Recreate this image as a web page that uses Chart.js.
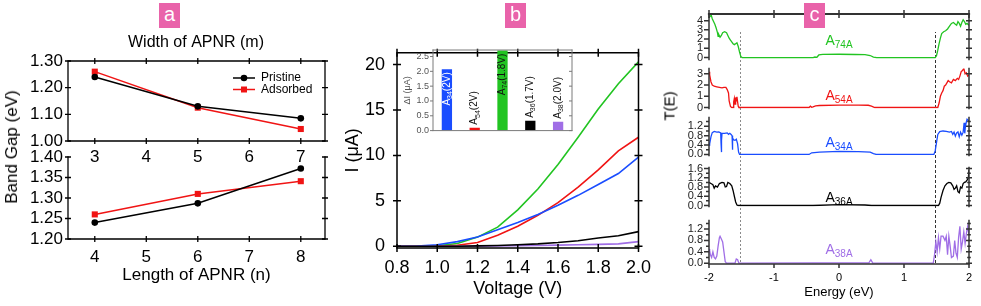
<!DOCTYPE html>
<html>
<head>
<meta charset="utf-8">
<script src="https://cdn.jsdelivr.net/npm/chart.js@4/dist/chart.umd.min.js"></script>
<style>
  body { margin: 0; background: #fff; }
  #fig { position: relative; width: 981px; height: 306px; overflow: hidden; font-family: "Liberation Sans", Arial, sans-serif; }
  canvas { position: absolute; }
  .tag { position: absolute; z-index: 5; width: 21px; height: 25px; background: #e963aa; color: #fff; font-size: 20px; line-height: 23px; text-align: center; }
  .vt { position: absolute; z-index: 5; transform: translate(-50%, -50%) rotate(-90deg); white-space: nowrap; color: #000; }
</style>
</head>
<body>
<div id="fig">
  <div class="tag" style="left:159px;top:3px">a</div>
  <div class="tag" style="left:505px;top:3px">b</div>
  <div class="tag" style="left:804px;top:3px">c</div>
  <div class="vt" style="left:12px;top:147px;font-size:17px">Band Gap (eV)</div>
  <div class="vt" style="left:669px;top:106px;font-size:15px">T(E)</div>
</div>
<script>
// panel a : band gap vs width / length
const widthM = [3, 5, 7];
const widthPristine = [1.24, 1.13, 1.085];
const widthAdsorbed = [1.26, 1.125, 1.045];
const widthTicks = [3, 4, 5, 6, 7];
const gapTicksWidth = [1.0, 1.1, 1.2, 1.3];

const lengthN = [4, 6, 8];
const lengthPristine = [1.24, 1.287, 1.372];
const lengthAdsorbed = [1.26, 1.31, 1.341];
const lengthTicks = [4, 5, 6, 7, 8];
const gapTicksLength = [1.2, 1.25, 1.3, 1.35, 1.4];

// panel b : I-V curves
const voltage = [0.8, 0.9, 1.0, 1.1, 1.2, 1.3, 1.4, 1.5, 1.6, 1.7, 1.8, 1.9, 2.0];
const iA74 = [0, 0, 0.05, 0.3, 1.0, 2.1, 4.0, 6.3, 9.0, 12.0, 15.1, 17.9, 20.3];
const iA54 = [0, 0, 0, 0.1, 0.4, 1.2, 2.2, 3.4, 4.8, 6.5, 8.4, 10.5, 12.0];
const iA34 = [0, 0.02, 0.15, 0.5, 1.0, 1.8, 2.6, 3.5, 4.5, 5.6, 6.8, 8.0, 9.8];
const iA36 = [0, 0, 0, 0, 0.03, 0.08, 0.15, 0.25, 0.4, 0.6, 0.9, 1.15, 1.6];
const iA38 = [0, 0, 0, 0, 0, 0.02, 0.05, 0.08, 0.12, 0.16, 0.2, 0.25, 0.5];
const voltTicks = [0.8, 1.0, 1.2, 1.4, 1.6, 1.8, 2.0];
const currentTicks = [0, 5, 10, 15, 20];

// panel b inset : delta I
const insetNames = ['34', '54', '74', '36', '38'];
const insetBias = ['(2V)', '(2V)', '(1.8V)', '(1.7V)', '(2.0V)'];
const insetDelta = [2.07, 0.1, 2.7, 0.33, 0.3];
const insetTicks = [0, 0.5, 1.0, 1.5, 2.0, 2.5];

// panel c : transmission T(E)
const eA74 = [-2.00,-1.98,-1.97,-1.95,-1.93,-1.91,-1.89,-1.87,-1.86,-1.85,-1.83,-1.81,-1.79,-1.76,-1.73,-1.71,-1.69,-1.67,-1.65,-1.63,-1.61,-1.59,-1.57,-1.55,-1.53,-1.51,-1.49,-0.40,-0.37,-0.34,-0.31,-0.25,0.00,0.25,0.40,0.48,0.53,0.58,1.48,1.50,1.52,1.54,1.56,1.58,1.61,1.64,1.67,1.70,1.73,1.76,1.79,1.81,1.83,1.85,1.87,1.89,1.91,1.93,1.95,1.97,2.00];
const tA74 = [4.3,4.5,4.7,4.2,3.9,3.6,3.2,2.7,2.3,2.5,2.2,2.4,2.7,2.8,2.7,2.4,2.1,1.9,1.7,1.5,1.4,1.5,1.6,1.2,0.6,0.1,0,0,0.06,0.03,0.28,0.35,0.36,0.33,0.31,0.22,0.05,0,0,0.2,0.8,1.5,2.1,2.6,2.8,2.9,3.1,3.4,3.7,3.8,3.6,3.5,3.9,3.7,3.4,3.8,4.1,3.9,3.6,3.7,3.5];
const eA54 = [-2.00,-1.99,-1.97,-1.95,-1.92,-1.88,-1.84,-1.80,-1.77,-1.74,-1.72,-1.70,-1.69,-1.67,-1.65,-1.63,-1.62,-1.61,-1.60,-1.59,-1.58,-1.57,-1.56,-1.55,-1.54,-0.46,-0.44,-0.42,-0.40,-0.36,-0.30,0.00,0.30,0.45,0.50,0.55,1.52,1.54,1.56,1.58,1.60,1.62,1.64,1.66,1.68,1.70,1.73,1.76,1.79,1.82,1.84,1.86,1.88,1.90,1.92,1.94,1.96,1.98,2.00];
const tA54 = [3.2,2.9,2.3,2.0,1.9,1.85,1.8,1.75,1.8,1.8,1.6,1.3,0.6,0.1,0,0,0.5,0.8,0.3,0.9,0.6,0.95,0.5,0.1,0,0,0.12,0.02,0.05,0.15,0.18,0.22,0.22,0.2,0.12,0,0,0.4,1.0,1.3,1.5,1.9,2.0,2.2,2.4,2.3,2.2,2.5,2.4,2.6,2.5,2.8,3.2,3.3,3.5,3.0,3.1,2.8,2.9];
const eA34 = [-2.00,-1.99,-1.97,-1.95,-1.92,-1.88,-1.85,-1.82,-1.815,-1.81,-1.805,-1.80,-1.76,-1.72,-1.70,-1.68,-1.66,-1.645,-1.64,-1.635,-1.62,-1.60,-1.58,-1.56,-1.545,-1.53,-0.46,-0.42,-0.30,0.00,0.30,0.48,0.53,0.57,1.46,1.48,1.50,1.52,1.55,1.60,1.65,1.70,1.73,1.75,1.77,1.79,1.81,1.83,1.85,1.87,1.89,1.91,1.925,1.935,1.945,1.96,1.97,1.98,1.99,2.00];
const tA34 = [0.4,0.45,0.75,0.93,0.98,0.95,0.96,0.92,0.5,0.1,0.6,0.9,0.9,0.92,0.86,0.9,0.85,0.8,0.2,0.7,0.62,0.6,0.65,0.45,0.1,0,0,0.07,0.1,0.13,0.12,0.1,0.04,0,0,0.15,0.5,0.85,0.97,1.0,0.98,0.95,0.98,0.86,0.95,0.78,0.92,0.96,0.75,0.95,0.82,0.95,1.35,0.9,1.2,1.4,1.5,1.5,1.45,1.42];
const eA36 = [-2.00,-1.97,-1.94,-1.92,-1.90,-1.87,-1.84,-1.80,-1.77,-1.75,-1.73,-1.71,-1.68,-1.65,-1.63,-1.61,-1.59,-1.57,-1.55,-0.40,0.00,0.40,0.50,1.53,1.55,1.57,1.60,1.63,1.66,1.69,1.72,1.75,1.77,1.79,1.81,1.83,1.85,1.87,1.89,1.91,1.93,1.95,1.97,1.99,2.00];
const tA36 = [1.0,0.95,0.9,0.75,0.85,0.8,0.95,1.0,0.98,0.8,0.82,1.0,0.95,0.85,0.65,0.4,0.15,0.02,0,0,0.04,0.02,0,0,0.1,0.35,0.65,0.85,0.95,1.0,0.98,0.85,0.7,0.75,0.85,0.6,0.55,0.8,0.75,0.95,1.0,1.02,1.1,1.2,1.55];
const eA38 = [-2.00,-1.99,-1.98,-1.96,-1.94,-1.92,-1.90,-1.88,-1.86,-1.84,-1.83,-1.81,-1.79,-1.77,-1.75,-1.73,-1.60,-1.58,-1.56,-1.54,-0.40,0.46,0.49,0.52,1.45,1.47,1.49,1.51,1.53,1.55,1.57,1.60,1.63,1.65,1.67,1.69,1.71,1.73,1.76,1.78,1.80,1.82,1.84,1.86,1.88,1.90,1.92,1.94,1.96,1.98,2.00];
const tA38 = [0.5,0.45,0.3,0.2,0.4,0.2,0.15,0.25,0.6,0.9,0.95,0.85,0.75,0.4,0.05,0,0,0.15,0.12,0,0.01,0.01,0.12,0,0,0.3,0.75,0.4,0.9,0.5,0.95,0.95,0.8,0.95,0.3,0.95,0.6,0.2,0.25,0.8,0.35,0.2,0.9,1.3,0.5,0.75,1.1,0.7,1.05,1.3,1.0];
const energyTicks = [-2, -1, 0, 1, 2];
const gapEdges = [-1.53, 1.47];

const GREEN = '#22c422', RED = '#f01414', BLUE = '#1a4dff', BLACK = '#000', PURPLE = '#a06ee6';
const FONT = '"Liberation Sans", Arial, sans-serif';
Chart.defaults.font.family = FONT;
Chart.defaults.color = '#000';
Chart.defaults.animation = false;
Chart.defaults.events = [];
Chart.defaults.plugins.legend.display = false;
Chart.defaults.plugins.tooltip.enabled = false;

const xy = (xs, ys) => xs.map((x, i) => ({ x, y: ys[i] }));
const fixTicks = vals => s => { s.ticks = vals.map(v => ({ value: v })); };
const noGrid = { display: false, drawTicks: false };

function canvasAt(left, top, w, h) {
  const c = document.createElement('canvas');
  c.width = w; c.height = h;
  c.style.left = left + 'px'; c.style.top = top + 'px';
  c.style.width = w + 'px'; c.style.height = h + 'px';
  document.getElementById('fig').appendChild(c);
  return c;
}

// text with subscripts: parts = [[text, size, dy], ...]
function drawParts(ctx, parts, x, y, align, rot, color) {
  ctx.save();
  ctx.translate(x, y);
  if (rot) ctx.rotate(rot);
  ctx.fillStyle = color;
  ctx.textBaseline = 'middle';
  ctx.textAlign = 'left';
  let w = 0;
  for (const [t, s] of parts) { ctx.font = s + 'px ' + FONT; w += ctx.measureText(t).width; }
  let cx = align === 'center' ? -w / 2 : align === 'right' ? -w : 0;
  for (const [t, s, dy] of parts) {
    ctx.font = s + 'px ' + FONT;
    ctx.fillText(t, cx, dy || 0);
    cx += ctx.measureText(t).width;
  }
  ctx.restore();
}

// box lines + crossing tick marks
function frame(o) {
  return {
    id: 'frame',
    afterDatasetsDraw(chart) {
      const { ctx, chartArea: a } = chart;
      const sx = chart.scales.x, sy = chart.scales.y;
      ctx.save();
      ctx.strokeStyle = o.color;
      ctx.lineWidth = o.width;
      ctx.lineCap = 'square';
      ctx.beginPath();
      for (const s of o.sides) {
        if (s === 'l') { ctx.moveTo(a.left, a.top); ctx.lineTo(a.left, a.bottom); }
        if (s === 'r') { ctx.moveTo(a.right, a.top); ctx.lineTo(a.right, a.bottom); }
        if (s === 't') { ctx.moveTo(a.left, a.top); ctx.lineTo(a.right, a.top); }
        if (s === 'b') { ctx.moveTo(a.left, a.bottom); ctx.lineTo(a.right, a.bottom); }
      }
      ctx.stroke();
      if (o.topWidth) {
        ctx.lineWidth = o.topWidth;
        ctx.beginPath(); ctx.moveTo(a.left, a.top); ctx.lineTo(a.right, a.top); ctx.stroke();
      }
      ctx.lineWidth = o.tickWidth || o.width;
      ctx.lineCap = 'butt';
      ctx.beginPath();
      const mark = (side, v, inn, out) => {
        if (side === 'l') { const y = sy.getPixelForValue(v); ctx.moveTo(a.left - out, y); ctx.lineTo(a.left + inn, y); }
        if (side === 'r') { const y = sy.getPixelForValue(v); ctx.moveTo(a.right - inn, y); ctx.lineTo(a.right + out, y); }
        if (side === 't') { const x = sx.getPixelForValue(v); ctx.moveTo(x, a.top - out); ctx.lineTo(x, a.top + inn); }
        if (side === 'b') { const x = sx.getPixelForValue(v); ctx.moveTo(x, a.bottom - inn); ctx.lineTo(x, a.bottom + out); }
      };
      for (const side in o.ticks) {
        const horiz = side === 't' || side === 'b';
        const [inn, out] = o.ticks[side];
        (horiz ? o.xTicks : o.yTicks).forEach(v => mark(side, v, inn, out));
        ((horiz ? o.minorX : o.minorY) || []).forEach(v => mark(side, v, inn * 0.6, out * 0.6));
      }
      ctx.stroke();
      ctx.restore();
    }
  };
}

// text items placed in data coords (at) or canvas px (px)
function notes(items) {
  return {
    id: 'notes',
    afterDatasetsDraw(chart) {
      for (const it of items) {
        const x = it.at ? chart.scales.x.getPixelForValue(it.at[0]) : it.px[0];
        const y = it.at ? chart.scales.y.getPixelForValue(it.at[1]) : it.px[1];
        drawParts(chart.ctx, it.parts, x, y, it.align || 'center', 0, it.color || '#000');
      }
    }
  };
}

// ---------- panel a, top (width) ----------
const aLegend = {
  id: 'aLegend',
  afterDatasetsDraw(chart) {
    const ctx = chart.ctx;
    chart.data.datasets.forEach((ds, i) => {
      const y = 48 + i * 11.5;
      ctx.save();
      ctx.strokeStyle = ds.borderColor; ctx.fillStyle = ds.borderColor; ctx.lineWidth = 1.5;
      ctx.beginPath(); ctx.moveTo(233, y); ctx.lineTo(255, y); ctx.stroke();
      ctx.beginPath();
      if (ds.pointStyle === 'rect') ctx.rect(244 - 3, y - 3, 6, 6);
      else ctx.arc(244, y, 3.3, 0, Math.PI * 2);
      ctx.fill();
      ctx.restore();
      drawParts(ctx, [[ds.label, 12]], 261, y, 'left', 0, '#000');
    });
  }
};

function bandSets(xs, pr, ad) {
  return [
    { label: 'Pristine', data: xy(xs, pr), borderColor: BLACK, backgroundColor: BLACK, borderWidth: 1.5, pointStyle: 'circle', pointRadius: 3.3, pointBorderWidth: 0 },
    { label: 'Adsorbed', data: xy(xs, ad), borderColor: RED, backgroundColor: RED, borderWidth: 1.5, pointStyle: 'rect', pointRadius: 4.3, pointBorderWidth: 0 }
  ];
}

new Chart(canvasAt(0, 30, 335, 140), {
  type: 'line',
  data: { datasets: bandSets(widthM, widthPristine, widthAdsorbed) },
  options: {
    responsive: false,
    layout: { padding: { top: 31, right: 10, left: 0, bottom: 0 } },
    scales: {
      x: { type: 'linear', min: 2.48, max: 7.47, afterBuildTicks: fixTicks(widthTicks), afterFit: s => { s.height = 29; },
           grid: noGrid, border: { display: false },
           ticks: { font: { size: 17 }, padding: 6, maxRotation: 0, autoSkip: false, callback: v => String(v) } },
      y: { min: 1.0, max: 1.3, afterBuildTicks: fixTicks(gapTicksWidth), afterFit: s => { s.width = 68; },
           grid: noGrid, border: { display: false },
           ticks: { font: { size: 17 }, padding: 5, autoSkip: false, callback: v => v.toFixed(2) } }
    }
  },
  plugins: [
    frame({ sides: 'lrtb', color: '#000', width: 1.3, ticks: { l: [3, 3], r: [3, 3], t: [3, 3], b: [3, 3] }, xTicks: widthTicks, yTicks: gapTicksWidth }),
    notes([{ parts: [['Width of APNR (m)', 16]], px: [196, 13] }]),
    aLegend
  ]
});

// ---------- panel a, bottom (length) ----------
new Chart(canvasAt(0, 140, 335, 166), {
  type: 'line',
  data: { datasets: bandSets(lengthN, lengthPristine, lengthAdsorbed) },
  options: {
    responsive: false,
    layout: { padding: { top: 17, right: 10, left: 0, bottom: 0 } },
    scales: {
      x: { type: 'linear', min: 3.48, max: 8.47, afterBuildTicks: fixTicks(lengthTicks), afterFit: s => { s.height = 67; },
           grid: noGrid, border: { display: false },
           title: { display: true, text: 'Length of APNR (n)', font: { size: 17 }, padding: { top: 0, bottom: 20 } },
           ticks: { font: { size: 17 }, padding: 8, maxRotation: 0, autoSkip: false, callback: v => String(v) } },
      y: { min: 1.2, max: 1.4, afterBuildTicks: fixTicks(gapTicksLength), afterFit: s => { s.width = 68; },
           grid: noGrid, border: { display: false },
           ticks: { font: { size: 17 }, padding: 5, autoSkip: false, callback: v => v.toFixed(2) } }
    }
  },
  plugins: [
    frame({ sides: 'lrb', color: '#000', width: 1.3, ticks: { l: [3, 3], r: [3, 3], b: [3, 3] }, xTicks: lengthTicks, yTicks: gapTicksLength })
  ]
});

// ---------- panel b, I-V ----------
const ivLine = (ys, color) => ({ data: xy(voltage, ys), borderColor: color, borderWidth: 1.6, pointRadius: 0, tension: 0 });
new Chart(canvasAt(335, 30, 325, 276), {
  type: 'line',
  data: { datasets: [ivLine(iA36, BLACK), ivLine(iA38, PURPLE), ivLine(iA34, BLUE), ivLine(iA54, RED), ivLine(iA74, GREEN)] },
  options: {
    responsive: false,
    layout: { padding: { top: 11, right: 10, left: 0, bottom: 0 } },
    scales: {
      x: { type: 'linear', min: 0.8, max: 2.0, afterBuildTicks: fixTicks(voltTicks), afterFit: s => { s.height = 58; },
           grid: noGrid, border: { display: false },
           title: { display: true, text: 'Voltage (V)', font: { size: 18 }, padding: { top: 0, bottom: 6 } },
           ticks: { font: { size: 18 }, padding: 9, maxRotation: 0, autoSkip: false, callback: v => v.toFixed(1) } },
      y: { min: -0.2, max: 21.3, afterBuildTicks: fixTicks(currentTicks), afterFit: s => { s.width = 62; },
           grid: noGrid, border: { display: false },
           title: { display: true, text: 'I (μA)', font: { size: 18 }, padding: { top: 7, bottom: 0 } },
           ticks: { font: { size: 18 }, padding: 12, autoSkip: false, callback: v => String(v) } }
    }
  },
  plugins: [
    frame({ sides: 'lrtb', color: '#000', width: 1.5, ticks: { l: [4, 4], r: [4, 4], t: [4, 4], b: [4, 4] }, xTicks: voltTicks, yTicks: currentTicks })
  ]
});

// ---------- panel b inset, delta I bars ----------
const insetColors = [BLUE, RED, GREEN, BLACK, PURPLE];
const insetLabels = {
  id: 'insetLabels',
  afterDatasetsDraw(chart) {
    const bars = chart.getDatasetMeta(0).data;
    bars.forEach((b, i) => {
      const parts = [['A', 10], [insetNames[i], 7, 3], [insetBias[i], 10]];
      const inside = insetDelta[i] > 1;
      const color = i === 0 ? '#fff' : '#111';
      if (inside) drawParts(chart.ctx, parts, b.x, b.y + 3, 'right', -Math.PI / 2, color);
      else drawParts(chart.ctx, parts, b.x, b.y - 3, 'left', -Math.PI / 2, color);
    });
  }
};
new Chart(canvasAt(400, 40, 180, 100), {
  type: 'bar',
  data: {
    labels: insetNames,
    datasets: [{ data: insetDelta, backgroundColor: insetColors, barPercentage: 0.37, categoryPercentage: 1 }]
  },
  options: {
    responsive: false,
    layout: { padding: { top: 10, right: 8, left: 0, bottom: 5 } },
    scales: {
      x: { display: false },
      y: { min: 0, max: 2.72, afterBuildTicks: fixTicks(insetTicks), afterFit: s => { s.width = 33; },
           grid: noGrid, border: { display: false },
           title: { display: true, text: 'ΔI (μA)', color: '#555', font: { size: 9 }, padding: { top: 2, bottom: 0 } },
           ticks: { font: { size: 9 }, color: '#555', padding: 4, autoSkip: false, callback: v => v.toFixed(1) } }
    }
  },
  plugins: [
    frame({ sides: 'lrtb', color: '#7a7a7a', width: 1, ticks: { l: [0, 3], r: [3, 0] }, xTicks: [], yTicks: insetTicks }),
    insetLabels
  ]
});

// ---------- panel c, T(E) stack ----------
function guides(canvasTop, y0, y1) {
  return {
    id: 'guides',
    beforeDatasetsDraw(chart) {
      const { ctx } = chart;
      gapEdges.forEach((e, i) => {
        const x = Math.round(chart.scales.x.getPixelForValue(e)) + 0.5;
        ctx.save();
        ctx.strokeStyle = i === 0 ? '#8a8a8a' : '#333';
        ctx.lineWidth = 1;
        ctx.setLineDash(i === 0 ? [2, 2] : [3, 2]);
        ctx.lineDashOffset = y0;
        ctx.beginPath(); ctx.moveTo(x, y0 - canvasTop); ctx.lineTo(x, y1 - canvasTop); ctx.stroke();
        ctx.restore();
      });
    }
  };
}

const minorT = [0.2, 0.6, 1.0, 1.4];
const cPanels = [
  { e: eA74, t: tA74, color: GREEN, name: '74A', top: 0, h: 72, padTop: 14, padBot: 10, min: -0.2, max: 4.72, yTicks: [0, 1, 2, 3, 4], dec: 0, minor: [], sides: 'lrt', ly: 1.74, guide: [32, 64] },
  { e: eA54, t: tA54, color: RED, name: '54A', top: 56, h: 65, padTop: 10, padBot: 10, min: -0.08, max: 3.47, yTicks: [0, 1, 2, 3], dec: 0, minor: [], sides: 'lr', ly: 1.03, guide: [64, 113] },
  { e: eA34, t: tA34, color: BLUE, name: '34A', top: 105, h: 63, padTop: 10, padBot: 10, min: -0.04, max: 1.57, yTicks: [0, 0.4, 0.8, 1.2], dec: 1, minor: minorT, sides: 'lr', ly: 0.49, guide: [113, 161] },
  { e: eA36, t: tA36, color: BLACK, name: '36A', top: 155, h: 64, padTop: 10, padBot: 10, min: -0.04, max: 1.64, yTicks: [0, 0.4, 0.8, 1.2, 1.6], dec: 1, minor: minorT, sides: 'lr', ly: 0.3, guide: [161, 213] },
  { e: eA38, t: tA38, color: PURPLE, name: '38A', top: 208, h: 98, padTop: 10, padBot: 0, min: -0.03, max: 1.5, yTicks: [0, 0.4, 0.8, 1.2], dec: 1, minor: minorT, sides: 'lrb', ly: 0.47, guide: [213, 264] }
];

cPanels.forEach((p, k) => {
  const last = k === cPanels.length - 1;
  const xScale = last
    ? { type: 'linear', min: -2, max: 2, afterBuildTicks: fixTicks(energyTicks), afterFit: s => { s.height = 42; },
        grid: noGrid, border: { display: false },
        title: { display: true, text: 'Energy (eV)', font: { size: 13 }, padding: { top: 0, bottom: 6 } },
        ticks: { font: { size: 11 }, padding: 7, maxRotation: 0, autoSkip: false, callback: v => String(v) } }
    : { type: 'linear', min: -2, max: 2, display: false };
  const tickSides = { l: [0, 5], r: [3, 3] };
  if (k === 0) tickSides.t = [4, 4];
  if (last) tickSides.b = [0, 4];
  new Chart(canvasAt(670, p.top, 311, p.h), {
    type: 'line',
    data: { datasets: [{ data: xy(p.e, p.t), borderColor: p.color, borderWidth: 1.3, pointRadius: 0, tension: 0 }] },
    options: {
      responsive: false,
      layout: { padding: { top: p.padTop, right: 12, left: 0, bottom: p.padBot } },
      scales: {
        x: xScale,
        y: { min: p.min, max: p.max, afterBuildTicks: fixTicks(p.yTicks), afterFit: s => { s.width = 39; },
             grid: noGrid, border: { display: false },
             ticks: { font: { size: 11 }, color: '#222', padding: 6, autoSkip: false, callback: v => v.toFixed(p.dec) } }
      }
    },
    plugins: [
      guides(p.top, p.guide[0], p.guide[1]),
      frame({ sides: p.sides, color: '#333', width: 1.5, topWidth: k === 0 ? 2.2 : 0, ticks: tickSides, xTicks: energyTicks, yTicks: p.yTicks, minorY: p.minor }),
      notes([{ parts: [['A', 14], [p.name, 10, 4]], at: [0, p.ly], color: p.color }])
    ]
  });
});
</script>
</body>
</html>
